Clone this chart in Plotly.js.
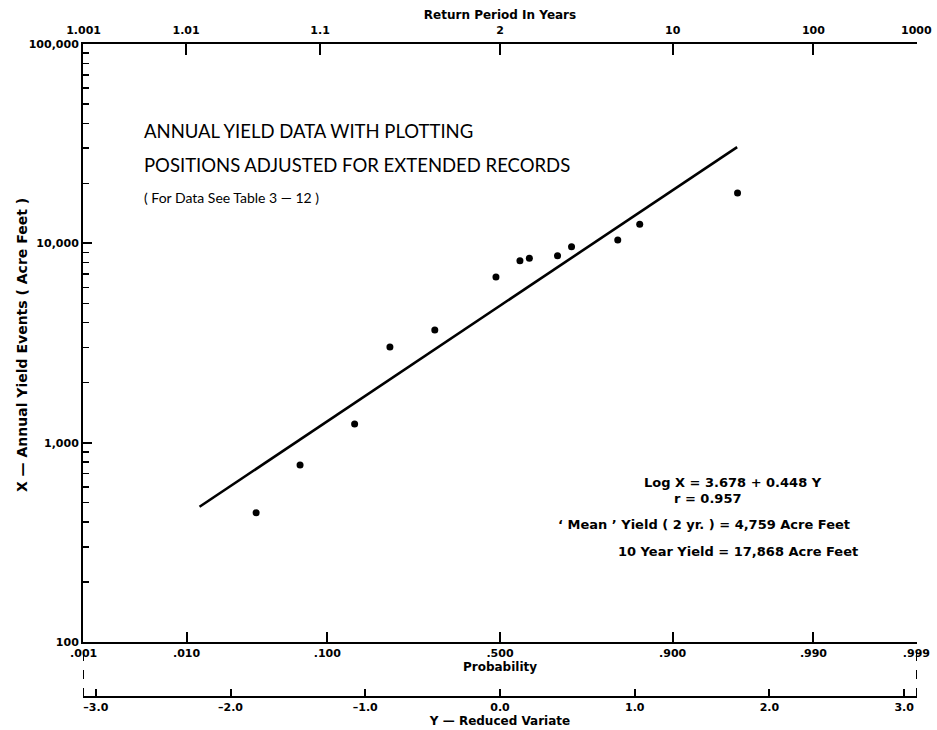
<!DOCTYPE html>
<html>
<head>
<meta charset="utf-8">
<script src="https://cdn.plot.ly/plotly-3.0.1.min.js"></script>
<style>html,body{margin:0;padding:0;background:#fff;}#chart{width:937px;height:730px;}</style>
</head>
<body>
<div id="chart"></div>
<script>
// ---- data ----
const probValues = [0.001, 0.01, 0.1, 0.5, 0.9, 0.99, 0.999];
const probLabels = ['.001', '.010', '.100', '.500', '.900', '.990', '.999'];
const returnPeriods = [1.001, 1.01, 1.1, 2, 10, 100, 1000];
const returnLabels = ['1.001', '1.01', '1.1', '2', '10', '100', '1000'];
const variateTicks = [-3, -2, -1, 0, 1, 2, 3];
const variateLabels = ['\u20133.0', '\u20132.0', '\u20131.0', '0.0', '1.0', '2.0', '3.0'];
const yieldTicks = [100, 1000, 10000, 100000];
const yieldLabels = ['100', '1,000', '10,000', '100,000'];

// observed points: reduced variate Y, annual yield (acre feet)
const reducedVariate = [-1.81, -1.484, -1.079, -0.817, -0.484, -0.030, 0.148, 0.218, 0.427, 0.531, 0.874, 1.037, 1.763];
const annualYield = [445, 772, 1240, 3020, 3670, 6770, 8180, 8410, 8660, 9610, 10390, 12450, 17880];

// fitted line end points
const fitVariate = [-2.23, 1.76];
const fitYield = [477, 30400];

// ---- inverse standard normal (Acklam) ----
function invNorm(p) {
  const a = [-3.969683028665376e+01, 2.209460984245205e+02, -2.759285104469687e+02, 1.383577518672690e+02, -3.066479806614716e+01, 2.506628277459239e+00];
  const b = [-5.447609879822406e+01, 1.615858368580409e+02, -1.556989798598866e+02, 6.680131188771972e+01, -1.328068155288572e+01];
  const c = [-7.784894002430293e-03, -3.223964580411365e-01, -2.400758277161838e+00, -2.549732539343734e+00, 4.374664141464968e+00, 2.938163982698783e+00];
  const d = [7.784695709041462e-03, 3.224671290700398e-01, 2.445134137142996e+00, 3.754408661907416e+00];
  const pl = 0.02425, ph = 1 - pl;
  let q, r;
  if (p < pl) {
    q = Math.sqrt(-2 * Math.log(p));
    return (((((c[0]*q+c[1])*q+c[2])*q+c[3])*q+c[4])*q+c[5]) / ((((d[0]*q+d[1])*q+d[2])*q+d[3])*q+1);
  } else if (p <= ph) {
    q = p - 0.5; r = q*q;
    return (((((a[0]*r+a[1])*r+a[2])*r+a[3])*r+a[4])*r+a[5])*q / (((((b[0]*r+b[1])*r+b[2])*r+b[3])*r+b[4])*r+1);
  } else {
    q = Math.sqrt(-2 * Math.log(1 - p));
    return -(((((c[0]*q+c[1])*q+c[2])*q+c[3])*q+c[4])*q+c[5]) / ((((d[0]*q+d[1])*q+d[2])*q+d[3])*q+1);
  }
}

const probPos = probValues.map(invNorm);
const returnPos = returnPeriods.map(t => invNorm(1 - 1 / t));
const minorVals = [];
[100, 1000, 10000].forEach(dec => { for (let k = 2; k <= 9; k++) minorVals.push(dec * k); });

const FONT = '"DejaVu Sans", Verdana, sans-serif';
const TFONT = 'Lato, "Open Sans", sans-serif';
const xr = [-3.095, 3.095];
const bottomDomain = 0.0842;

const traces = [
  {
    x: fitVariate, y: fitYield, type: 'scatter', mode: 'lines',
    line: {color: '#000', width: 2.6}, hoverinfo: 'skip', showlegend: false
  },
  {
    x: reducedVariate, y: annualYield, type: 'scatter', mode: 'markers',
    marker: {color: '#000', size: 7}, showlegend: false
  },
  // invisible carriers so that the overlaid top and lower axes are drawn
  {x: returnPos, y: returnPos.map(() => 1000), xaxis: 'x2', yaxis: 'y', type: 'scatter', mode: 'markers',
   marker: {opacity: 0}, hoverinfo: 'skip', showlegend: false},
  {x: variateTicks, y: variateTicks.map(() => 1000), xaxis: 'x3', yaxis: 'y', type: 'scatter', mode: 'markers',
   marker: {opacity: 0}, hoverinfo: 'skip', showlegend: false}
];

const axisCommon = {
  showgrid: false, zeroline: false, showline: true, linecolor: '#000', linewidth: 2,
  tickcolor: '#000', tickwidth: 2, ticks: 'inside', range: xr, tickmode: 'array', autorange: false,
  tickfont: {family: FONT, size: 11, color: '#000', weight: 'bold'}
};
const titleFont = {family: FONT, size: 12, weight: 'bold', color: '#000'};

const layout = {
  width: 937, height: 730,
  margin: {l: 83, r: 20, t: 44, b: 33},
  paper_bgcolor: '#fff', plot_bgcolor: '#fff',
  font: {family: FONT, color: '#000'},
  showlegend: false,
  xaxis: Object.assign({}, axisCommon, {
    anchor: 'y', side: 'bottom', tickvals: probPos, ticktext: probLabels, ticklen: 10,
    title: {text: 'Probability', font: titleFont, standoff: 1}
  }),
  xaxis2: Object.assign({}, axisCommon, {
    overlaying: 'x', anchor: 'y', side: 'top', tickvals: returnPos, ticktext: returnLabels, ticklen: 11,
    ticklabelstandoff: 4,
    title: {text: 'Return Period In Years', font: titleFont, standoff: 1}
  }),
  xaxis3: Object.assign({}, axisCommon, {
    overlaying: 'x', anchor: 'free', position: 0, side: 'bottom', tickvals: variateTicks, ticktext: variateLabels, ticklen: 7,
    title: {text: 'Y \u2014 Reduced Variate', font: titleFont, standoff: 0}
  }),
  yaxis: {
    type: 'log', range: [2, 5], domain: [bottomDomain, 1], anchor: 'x', autorange: false,
    showgrid: false, zeroline: false, showline: true, linecolor: '#000', linewidth: 2,
    ticks: 'inside', ticklen: 9, tickwidth: 2, tickcolor: '#000',
    tickmode: 'array', tickvals: yieldTicks, ticktext: yieldLabels,
    tickfont: {family: FONT, size: 11, color: '#000', weight: 'bold'},
    minor: {tickmode: 'array', tickvals: minorVals, ticks: 'inside', ticklen: 6, tickwidth: 1.5, tickcolor: '#000', showgrid: false}
  },
  shapes: [
    {type: 'line', xref: 'x', yref: 'paper', x0: xr[0], x1: xr[0], y0: 0, y1: bottomDomain, line: {color: '#000', width: 2, dash: 'dash'}},
    {type: 'line', xref: 'x', yref: 'paper', x0: xr[1], x1: xr[1], y0: 0, y1: bottomDomain, line: {color: '#000', width: 2, dash: 'dash'}}
  ],
  annotations: [
    {xref: 'paper', yref: 'paper', x: -0.0731, y: 0.539, xanchor: 'center', yanchor: 'middle', textangle: -90, showarrow: false,
     text: 'X \u2014 Annual Yield Events ( Acre Feet )', font: {family: FONT, size: 14, weight: 'bold', color: '#000'}},
    {xref: 'paper', yref: 'paper', x: 0.0707, y: 0.8668, xanchor: 'left', yanchor: 'middle', showarrow: false,
     text: 'ANNUAL YIELD DATA WITH PLOTTING', font: {family: TFONT, size: 18.5, color: '#000'}},
    {xref: 'paper', yref: 'paper', x: 0.0707, y: 0.8147, xanchor: 'left', yanchor: 'middle', showarrow: false,
     text: 'POSITIONS ADJUSTED FOR EXTENDED RECORDS', font: {family: TFONT, size: 18.5, color: '#000'}},
    {xref: 'paper', yref: 'paper', x: 0.0707, y: 0.7642, xanchor: 'left', yanchor: 'middle', showarrow: false,
     text: '( For Data See Table 3 \u2014 12 )', font: {family: TFONT, size: 14, color: '#000'}},
    {xref: 'paper', yref: 'paper', x: 0.7794, y: 0.3292, xanchor: 'center', yanchor: 'middle', showarrow: false,
     text: 'Log X = 3.678 + 0.448 Y', font: {family: FONT, size: 13, weight: 'bold', color: '#000'}},
    {xref: 'paper', yref: 'paper', x: 0.7494, y: 0.3047, xanchor: 'center', yanchor: 'middle', showarrow: false,
     text: 'r = 0.957', font: {family: FONT, size: 13, weight: 'bold', color: '#000'}},
    {xref: 'paper', yref: 'paper', x: 0.9221, y: 0.2634, xanchor: 'right', yanchor: 'middle', showarrow: false,
     text: '\u2018 Mean \u2019 Yield ( 2 yr. ) = 4,759 Acre Feet', font: {family: FONT, size: 13, weight: 'bold', color: '#000'}},
    {xref: 'paper', yref: 'paper', x: 0.9317, y: 0.2221, xanchor: 'right', yanchor: 'middle', showarrow: false,
     text: '10 Year Yield = 17,868 Acre Feet', font: {family: FONT, size: 13, weight: 'bold', color: '#000'}}
  ]
};

Plotly.newPlot('chart', traces, layout, {displayModeBar: false, staticPlot: true});
</script>
</body>
</html>
